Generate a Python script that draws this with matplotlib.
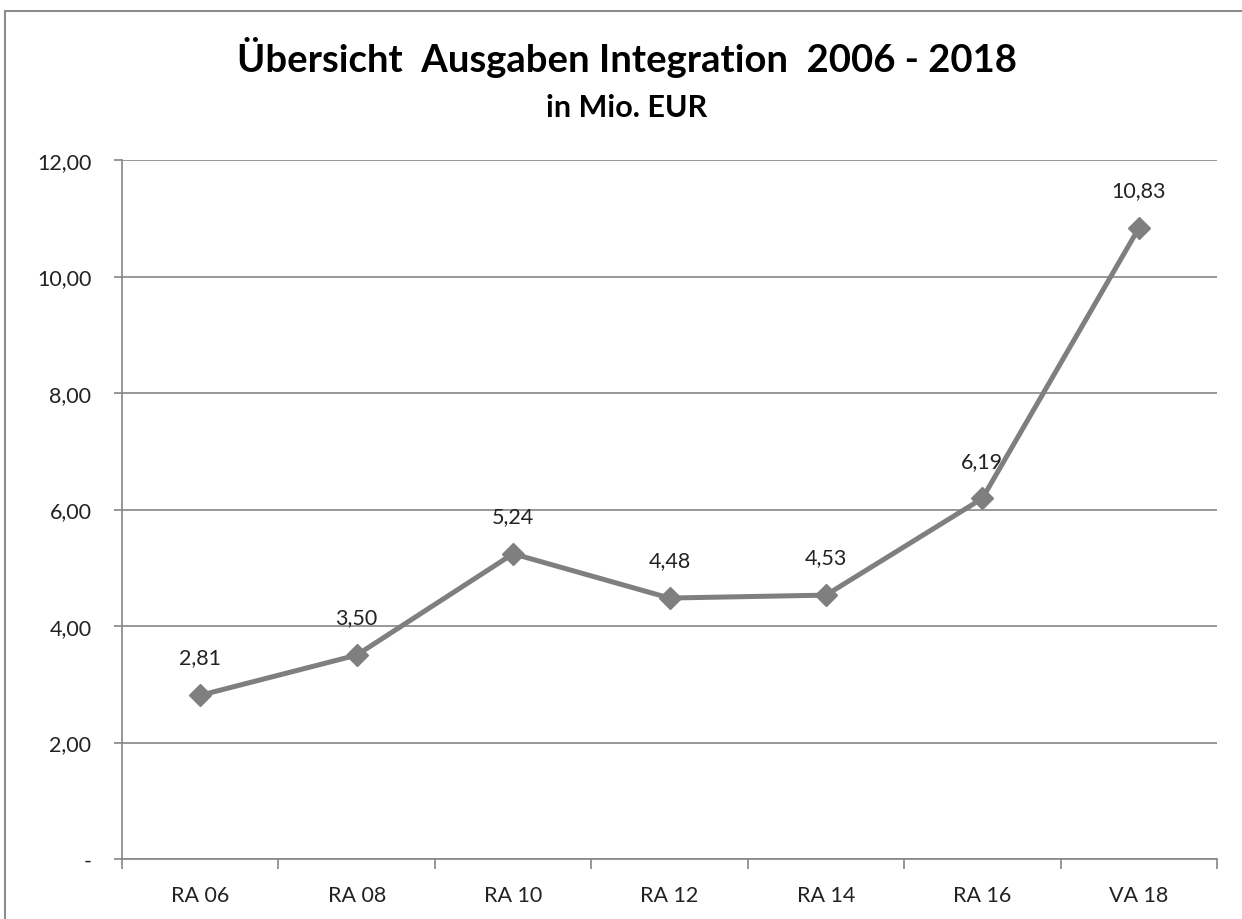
import matplotlib.pyplot as plt
from matplotlib import patches
import numpy as np

categories = ['RA 06', 'RA 08', 'RA 10', 'RA 12', 'RA 14', 'RA 16', 'VA 18']
values = [2.81, 3.50, 5.24, 4.48, 4.53, 6.19, 10.83]
y_ticks = [0, 2, 4, 6, 8, 10, 12]
y_labels = ['-', '2,00', '4,00', '6,00', '8,00', '10,00', '12,00']

plt.rcParams['font.family'] = ['Lato', 'DejaVu Sans']
grey = '#7f7f7f'
grid_grey = '#868686'

fig = plt.figure(figsize=(12.42, 9.2), dpi=100)
# outer chart frame (cropped on right/bottom like the reference)
fig.patches.append(patches.Rectangle((5 / 1242, -0.1), 1.2, 1 - 12 / 920 + 0.1,
                                     transform=fig.transFigure, fill=False,
                                     edgecolor='#8c8c8c', linewidth=1.5))

ax = fig.add_axes([122 / 1242, 1 - 860 / 920, (1217 - 122) / 1242, (860 - 161) / 920])
x = np.arange(len(categories))
ax.plot(x, values, color=grey, linewidth=3.6, marker='D', markersize=11,
        markerfacecolor=grey, markeredgecolor=grey, zorder=3)

for xi, v in zip(x, values):
    ax.annotate('{:.2f}'.format(v).replace('.', ','), (xi, v), xytext=(0, 20),
                textcoords='offset points', ha='center', va='bottom',
                fontsize=15.5, color='#222222')

ax.set_xlim(-0.5, len(categories) - 0.5)
ax.set_ylim(0, 12)
ax.set_yticks(y_ticks)
ax.set_yticklabels(y_labels)
ax.yaxis.grid(True, color=grid_grey, linewidth=1.2)
ax.set_axisbelow(True)

ax.set_xticks(x)
ax.set_xticklabels(categories)
ax.set_xticks(np.arange(-0.5, len(categories)), minor=True)
ax.tick_params(axis='x', which='major', length=0, pad=19, labelsize=15.5, labelcolor='#222222')
ax.tick_params(axis='x', which='minor', length=7, width=1.2, color=grid_grey, direction='out')
ax.tick_params(axis='y', length=6, width=1.2, color=grid_grey, pad=16, labelsize=15.5,
               labelcolor='#222222')

for s in ['top', 'right']:
    ax.spines[s].set_visible(False)
for s in ['left', 'bottom']:
    ax.spines[s].set_color(grid_grey)
    ax.spines[s].set_linewidth(1.2)

fig.text(627 / 1242, 1 - 57 / 920, 'Übersicht  Ausgaben Integration  2006 - 2018',
         ha='center', va='center', fontsize=27.5, fontweight='bold')
fig.text(627 / 1242, 1 - 108 / 920, 'in Mio. EUR',
         ha='center', va='center', fontsize=22, fontweight='bold')

plt.savefig('out.png', dpi=100)
